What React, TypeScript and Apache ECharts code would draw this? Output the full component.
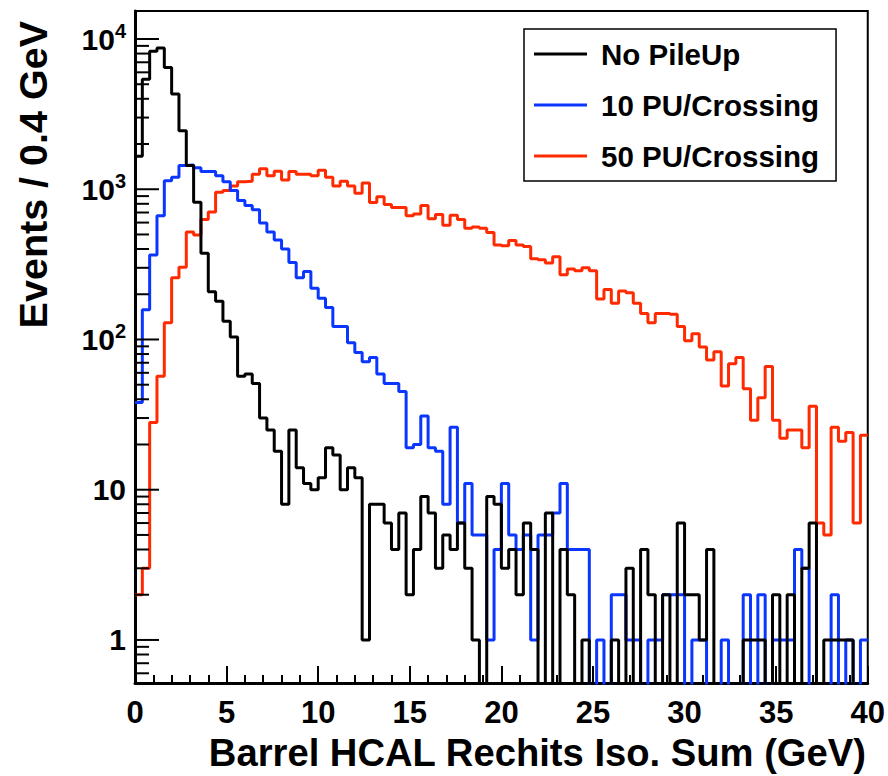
import React, { useEffect, useRef } from "react";
import * as echarts from "echarts";

// ---- data (bin width 0.4 GeV, 100 bins from 0 to 40 GeV) ----
const BIN_WIDTH = 0.4;
const X_MIN = 0;
const X_MAX = 40;
const Y_MIN = 0.517;
const Y_MAX = 15360;

const SERIES_NAMES = ["No PileUp", "10 PU/Crossing", "50 PU/Crossing"];

const noPileUp = [
  1660, 5400, 8300, 8700, 6450, 4300, 2450, 1440, 820, 375,
  208, 180, 132, 104, 57, 59, 51, 30, 25, 18,
  8, 25, 14, 11, 10, 12, 19, 17, 10, 14,
  12, 1, 8, 8, 6, 4, 7, 2, 4, 9,
  7, 3, 5, 4, 6, 3, 1, 0, 9, 8,
  3, 4, 2, 6, 4, 0, 7, 0, 4, 2,
  0, 1, 0, 0, 0, 1, 0, 3, 0, 4,
  2, 0, 2, 0, 6, 2, 2, 1, 4, 0,
  0, 0, 0, 1, 1, 1, 0, 2, 0, 2,
  0, 3, 6, 0, 1, 1, 1, 1, 0, 0,
];

const pu10 = [
  38, 158, 365, 665, 1140, 1200, 1440, 1450, 1390, 1310,
  1310, 1230, 1120, 980, 840, 780, 730, 595, 520, 460,
  400, 325, 258, 283, 219, 188, 163, 122, 122, 95,
  82, 71, 76, 59, 51, 51, 45, 19, 20, 31,
  19, 18, 8, 26, 6, 11, 5, 5, 1, 4,
  11, 5, 4, 5, 1, 5, 5, 7, 11, 4,
  4, 4, 0, 1, 0, 2, 2, 1, 1, 0,
  1, 1, 2, 2, 2, 0, 1, 1, 0, 0,
  1, 0, 0, 2, 0, 2, 0, 1, 1, 1,
  4, 3, 0, 0, 0, 2, 0, 1, 0, 1,
];

const pu50 = [
  2, 3, 28, 57, 129, 258, 302, 520, 495, 630,
  705, 955, 980, 1050, 1120, 1130, 1260, 1370, 1230, 1320,
  1150, 1310, 1260, 1260, 1230, 1340, 1200, 1050, 1130, 1050,
  940, 1100, 815, 890, 790, 755, 755, 665, 685, 780,
  635, 680, 575, 670, 630, 550, 560, 550, 515, 425,
  420, 455, 425, 415, 345, 340, 323, 355, 270, 295,
  287, 300, 287, 186, 215, 174, 210, 205, 174, 149,
  129, 149, 149, 147, 122, 98, 109, 89, 73, 83,
  49, 69, 76, 47, 29, 41, 66, 29, 22, 25,
  25, 19, 36, 6, 5, 26, 21, 24, 6, 23,
];

const COLORS = ["#000000", "#0a36ff", "#ff2a00"];

// empty bins are drawn down to below the frame (clipped), as ROOT does
const EMPTY_BIN_LEVEL = 0.3;

function toSteps(values: number[]) {
  const pts: [number, number][] = values.map((v, i) => [
    +(i * BIN_WIDTH).toFixed(2),
    v > 0 ? v : EMPTY_BIN_LEVEL,
  ]);
  const last = values[values.length - 1];
  pts.push([X_MAX, last > 0 ? last : EMPTY_BIN_LEVEL]);
  return pts;
}

function logTicks() {
  const out: [number, number, number][] = [];
  for (let d = -1; d <= 5; d++) {
    for (let k = 1; k <= 9; k++) {
      const v = k * Math.pow(10, d);
      if (v >= Y_MIN && v <= Y_MAX) out.push([0, v, k === 1 ? 1 : 0]);
    }
  }
  return out;
}

export default function App() {
  const ref = useRef<HTMLDivElement>(null);
  useEffect(() => {
    if (!ref.current) return;
    const chart = echarts.init(ref.current, null, { renderer: "svg" });
    const font = "'Liberation Sans', Arial, Helvetica, sans-serif";
    const histo = (name: string, values: number[], color: string, z: number) => ({
      name,
      type: "line",
      step: "end",
      data: toSteps(values),
      symbol: "none",
      showSymbol: false,
      clip: true,
      z,
      lineStyle: { color, width: 3 },
      itemStyle: { color },
      emphasis: { disabled: true },
    });
    chart.setOption({
      animation: false,
      backgroundColor: "#ffffff",
      grid: {
        left: 135,
        right: 19,
        top: 11,
        bottom: 93,
        show: true,
        borderColor: "#000",
        borderWidth: 2,
        containLabel: false,
      },
      legend: {
        data: SERIES_NAMES,
        orient: "vertical",
        left: 524,
        top: 29,
        padding: [8, 17, 8, 10],
        itemWidth: 53,
        itemHeight: 3,
        itemGap: 17,
        icon: "rect",
        borderColor: "#000",
        borderWidth: 1.5,
        backgroundColor: "#fff",
        textStyle: {
          fontFamily: font,
          fontSize: 29.5,
          fontWeight: "bold",
          color: "#000",
          lineHeight: 34,
          padding: [0, 0, 0, 9],
        },
      },
      xAxis: {
        type: "value",
        min: X_MIN,
        max: X_MAX,
        interval: 5,
        axisLine: { show: true, onZero: false, lineStyle: { color: "#000", width: 3 } },
        axisTick: { show: true, inside: true, length: 17, lineStyle: { color: "#000", width: 2 } },
        minorTick: { show: true, splitNumber: 5, length: 8, lineStyle: { color: "#000", width: 2 } },
        splitLine: { show: false },
        axisLabel: {
          margin: 14,
          fontFamily: font,
          fontSize: 31,
          fontWeight: "bold",
          color: "#000",
        },
      },
      yAxis: {
        type: "log",
        logBase: 10,
        min: Y_MIN,
        max: Y_MAX,
        axisLine: { show: true, onZero: false, lineStyle: { color: "#000", width: 3 } },
        axisTick: { show: false },
        splitLine: { show: false },
        axisLabel: {
          margin: 9,
          showMinLabel: false,
          showMaxLabel: false,
          formatter: (v: number) => {
            const e = Math.log10(v);
            const r = Math.round(e);
            if (Math.abs(e - r) > 1e-6) return "";
            if (r === 0) return "{b|1}";
            if (r === 1) return "{b|10}";
            return "{b|10}{s|" + r + "}";
          },
          rich: {
            b: { fontFamily: font, fontSize: 30, fontWeight: "bold", color: "#000", lineHeight: 36 },
            s: { fontFamily: font, fontSize: 20, fontWeight: "bold", color: "#000", verticalAlign: "top", lineHeight: 24 },
          },
        },
      },
      graphic: [
        {
          type: "text",
          x: 33,
          y: 21,
          rotation: Math.PI / 2,
          style: {
            text: "Events / 0.4 GeV",
            fontFamily: font,
            fontSize: 39.5,
            fontWeight: "bold",
            fill: "#000",
            textAlign: "right",
            textVerticalAlign: "middle",
          },
        },
        {
          type: "text",
          x: 866,
          y: 752,
          style: {
            text: "Barrel HCAL Rechits Iso. Sum (GeV)",
            fontFamily: font,
            fontSize: 38.2,
            fontWeight: "bold",
            fill: "#000",
            textAlign: "right",
            textVerticalAlign: "middle",
          },
        },
      ],
      series: [
        histo(SERIES_NAMES[2], pu50, COLORS[2], 2),
        histo(SERIES_NAMES[1], pu10, COLORS[1], 3),
        histo(SERIES_NAMES[0], noPileUp, COLORS[0], 4),
        {
          type: "custom",
          name: "yticks",
          silent: true,
          z: 5,
          data: logTicks(),
          renderItem: (params: any, api: any) => {
            const p = api.coord([X_MIN, api.value(1)]);
            const len = api.value(2) ? 24 : 14;
            return {
              type: "line",
              shape: { x1: p[0], y1: p[1], x2: p[0] + len, y2: p[1] },
              style: { stroke: "#000", lineWidth: 2 },
            };
          },
        },
      ],
    });
    return () => chart.dispose();
  }, []);
  return (
    <div
      ref={ref}
      style={{ position: "fixed", left: 0, top: 0, width: 888, height: 776, background: "#fff" }}
    />
  );
}
